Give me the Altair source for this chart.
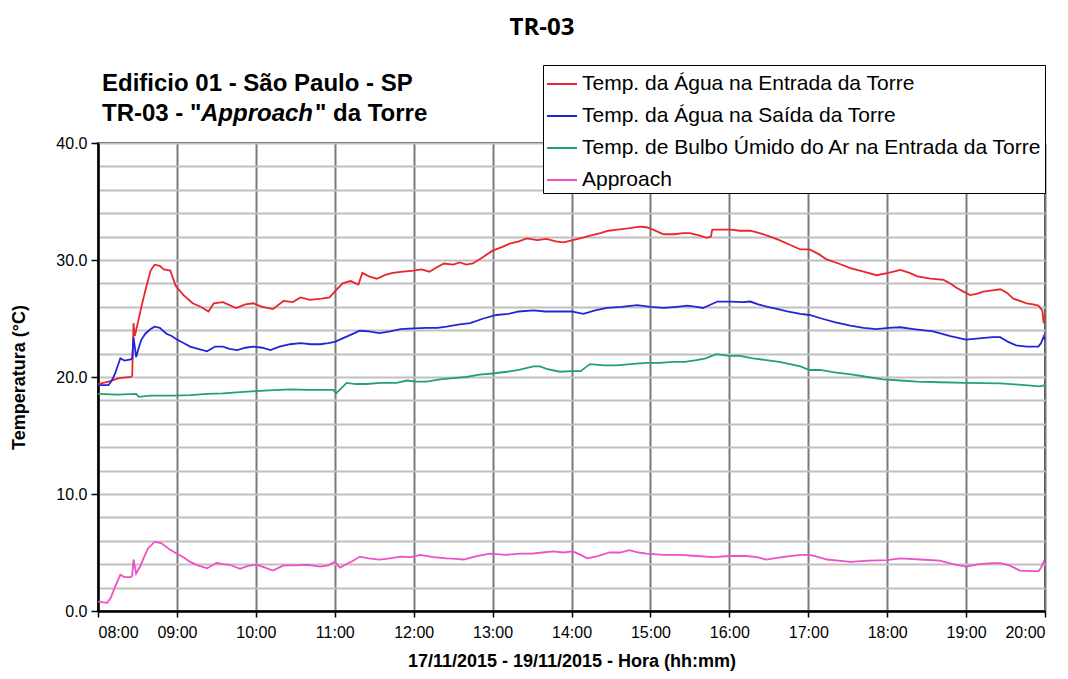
import altair as alt
import pandas as pd

# ---------------- data (minutes after 08:00, temperature in °C) ----------------
hour_labels = ["08:00", "09:00", "10:00", "11:00", "12:00", "13:00", "14:00",
               "15:00", "16:00", "17:00", "18:00", "19:00", "20:00"]

series_names = ["Temp. da Água na Entrada da Torre",
                "Temp. da Água na Saída da Torre",
                "Temp. de Bulbo Úmido do Ar na Entrada da Torre",
                "Approach"]
series_colors = ["#e8262c", "#2424d6", "#22a36a", "#ee50c6"]

t_entrada = [0, 8, 16, 25, 26, 27, 28, 30, 33, 36, 40, 43, 47, 50, 55, 59, 65, 72, 78, 84,
             88, 95, 105, 112, 118, 125, 133, 141, 148, 154, 161, 170, 176, 180, 186, 192,
             198, 201, 206, 212, 218, 224, 232, 240, 246, 252, 258, 263, 270, 275, 280, 285,
             292, 300, 307, 313, 320, 326, 334, 341, 348, 354, 361, 368, 375, 382, 388, 395,
             403, 412, 417, 422, 430, 438, 445, 450, 457, 463, 466, 467, 475, 481, 488, 496,
             503, 511, 518, 526, 534, 541, 548, 554, 563, 572, 582, 592, 601, 610, 617, 623,
             633, 643, 648, 653, 658, 663, 668, 673, 680, 686, 691, 696, 701, 706, 711, 715,
             718, 719, 720]
v_entrada = [19.4, 19.6, 19.9, 20.0, 20.1, 24.6, 23.5, 24.5, 26.0, 27.4, 29.1, 29.6, 29.5,
             29.2, 29.1, 27.8, 27.0, 26.3, 26.0, 25.6, 26.3, 26.4, 25.9, 26.2, 26.3, 26.0,
             25.8, 26.5, 26.4, 26.8, 26.6, 26.7, 26.8, 27.3, 28.0, 28.2, 27.9, 28.9, 28.6,
             28.4, 28.7, 28.9, 29.0, 29.1, 29.2, 29.0, 29.4, 29.7, 29.6, 29.8, 29.6, 29.7,
             30.2, 30.8, 31.1, 31.4, 31.6, 31.85, 31.7, 31.8, 31.6, 31.5, 31.7, 31.9, 32.1,
             32.3, 32.5, 32.6, 32.7, 32.85, 32.8, 32.6, 32.2, 32.2, 32.3, 32.3, 32.1, 31.9,
             32.0, 32.6, 32.6, 32.6, 32.5, 32.5, 32.3, 32.0, 31.7, 31.3, 30.9, 30.9, 30.5,
             30.05, 29.7, 29.3, 29.0, 28.7, 28.9, 29.15, 28.9, 28.6, 28.4, 28.3, 28.0, 27.6,
             27.3, 27.0, 27.1, 27.3, 27.4, 27.5, 27.2, 26.7, 26.5, 26.3, 26.2, 26.1, 25.7,
             24.6, 25.3]

t_saida = [0, 8, 11, 13, 17, 20, 25, 26, 27, 29, 31, 33, 36, 40, 43, 47, 52, 56, 60, 65,
           70, 76, 83, 89, 95, 100, 106, 112, 118, 125, 131, 138, 146, 154, 162, 169, 175,
           180, 186, 192, 199, 206, 214, 222, 230, 240, 250, 258, 265, 275, 283, 293, 303,
           312, 320, 331, 340, 350, 360, 369, 378, 387, 398, 410, 420, 430, 440, 448, 455,
           460, 466, 471, 481, 490, 496, 502, 509, 517, 524, 534, 541, 550, 560, 572, 582,
           592, 601, 610, 620, 635, 648, 660, 670, 680, 686, 692, 698, 706, 715, 717, 719,
           720]
v_saida = [19.3, 19.3, 19.8, 20.3, 21.6, 21.4, 21.5, 21.6, 23.4, 21.7, 22.5, 23.2, 23.7,
           24.1, 24.3, 24.2, 23.7, 23.5, 23.2, 22.9, 22.6, 22.4, 22.2, 22.6, 22.6, 22.4,
           22.3, 22.5, 22.6, 22.5, 22.3, 22.6, 22.8, 22.9, 22.8, 22.8, 22.9, 23.0, 23.3,
           23.6, 23.95, 23.9, 23.75, 23.9, 24.1, 24.15, 24.2, 24.2, 24.3, 24.5, 24.6, 25.0,
           25.3, 25.4, 25.6, 25.7, 25.6, 25.6, 25.6, 25.4, 25.7, 25.9, 26.0, 26.15, 26.0,
           25.9, 26.0, 26.1, 26.0, 25.9, 26.2, 26.45, 26.45, 26.4, 26.45, 26.2, 26.0, 25.8,
           25.6, 25.4, 25.3, 25.0, 24.7, 24.4, 24.2, 24.1, 24.2, 24.25, 24.1, 23.9, 23.5,
           23.2, 23.3, 23.4, 23.4, 23.0, 22.7, 22.6, 22.6, 22.9, 23.45, 23.2]

t_bulbo = [0, 15, 29, 31, 40, 57, 70, 83, 95, 108, 120, 130, 146, 160, 170, 179, 181, 189,
           196, 204, 215, 227, 235, 242, 250, 260, 270, 280, 290, 300, 311, 320, 331, 336,
           341, 351, 360, 367, 374, 385, 394, 405, 417, 427, 437, 446, 455, 462, 470, 480,
           488, 498, 508, 518, 526, 534, 541, 549, 560, 574, 585, 597, 610, 623, 640, 660,
           686, 700, 716, 720]
v_bulbo = [18.55, 18.5, 18.55, 18.3, 18.4, 18.4, 18.45, 18.55, 18.6, 18.7, 18.8, 18.85,
           18.95, 18.9, 18.9, 18.9, 18.6, 19.5, 19.4, 19.4, 19.5, 19.5, 19.7, 19.6, 19.6,
           19.8, 19.9, 20.0, 20.2, 20.3, 20.45, 20.6, 20.9, 20.9, 20.7, 20.45, 20.5, 20.5,
           21.1, 21.0, 21.0, 21.1, 21.2, 21.2, 21.3, 21.3, 21.45, 21.6, 21.95, 21.8, 21.8,
           21.6, 21.45, 21.3, 21.1, 20.9, 20.6, 20.6, 20.4, 20.2, 20.0, 19.8, 19.7, 19.6,
           19.55, 19.5, 19.45, 19.35, 19.2, 19.3]

t_approach = [0, 7, 10, 12, 15, 17, 20, 25, 26, 27, 29, 32, 35, 38, 43, 48, 54, 60, 65, 70,
              76, 83, 90, 95, 100, 108, 114, 121, 127, 133, 141, 150, 159, 169, 175, 180,
              184, 188, 194, 199, 206, 214, 222, 230, 238, 245, 255, 265, 272, 278, 288,
              298, 310, 321, 330, 338, 346, 354, 361, 367, 372, 380, 389, 397, 404, 411,
              417, 430, 443, 455, 468, 480, 493, 501, 508, 520, 534, 541, 548, 554, 563,
              572, 586, 600, 610, 625, 640, 650, 660, 670, 680, 686, 693, 701, 710, 715,
              717, 719, 720]
v_approach = [0.8, 0.7, 1.2, 1.8, 2.6, 3.1, 2.9, 2.9, 3.0, 4.4, 3.2, 3.8, 4.6, 5.35, 5.9,
              5.8, 5.3, 4.9, 4.6, 4.2, 3.9, 3.65, 4.1, 4.0, 3.95, 3.6, 3.85, 3.95, 3.7,
              3.45, 3.9, 3.9, 3.95, 3.8, 3.9, 4.2, 3.7, 3.95, 4.3, 4.65, 4.5, 4.4, 4.5,
              4.65, 4.6, 4.8, 4.6, 4.5, 4.45, 4.4, 4.7, 4.9, 4.8, 4.9, 4.9, 5.0, 5.1, 5.0,
              5.1, 4.8, 4.5, 4.7, 5.0, 5.0, 5.2, 5.0, 4.9, 4.8, 4.8, 4.7, 4.6, 4.7, 4.7,
              4.6, 4.4, 4.6, 4.8, 4.8, 4.6, 4.4, 4.3, 4.2, 4.3, 4.35, 4.5, 4.4, 4.3, 4.0,
              3.8, 4.0, 4.1, 4.1, 3.9, 3.45, 3.4, 3.4, 3.7, 4.2, 4.0]

y_label_values = [0, 10, 20, 30, 40]
y_grid_values = list(range(0, 41, 2))

# ---------------- build table ----------------
frames = []
for name, ts, vs in [(series_names[0], t_entrada, v_entrada),
                     (series_names[1], t_saida, v_saida),
                     (series_names[2], t_bulbo, v_bulbo),
                     (series_names[3], t_approach, v_approach)]:
    frames.append(pd.DataFrame({"serie": name, "minuto": ts, "temp": vs}))
df = pd.concat(frames, ignore_index=True)

FONT = "Liberation Sans"
label_expr = "[" + ",".join("'%s'" % h for h in hour_labels) + "][round(datum.value/60)]"

x_enc = alt.X(
    "minuto:Q",
    scale=alt.Scale(domain=[0, 720], nice=False, zero=False),
    axis=alt.Axis(
        values=list(range(0, 721, 60)), labelExpr=label_expr,
        title="17/11/2015 - 19/11/2015 - Hora  (hh:mm)",
        grid=True, gridColor="#7a7a7a", gridWidth=2,
        domainColor="#000000", domainWidth=2.5,
        tickColor="#000000", tickSize=6, tickWidth=1.5,
        labelFont=FONT, labelFontSize=16, labelColor="#000000", labelPadding=7,
        titleFont=FONT, titleFontSize=18, titleFontWeight="bold", titleColor="#000000",
        titleY=41,
    ),
)

y_scale = alt.Scale(domain=[0, 40], nice=False, zero=True)

grid_layer = alt.Chart(df).mark_point(opacity=0).encode(
    x=x_enc,
    y=alt.Y("temp:Q", scale=y_scale,
            axis=alt.Axis(values=y_grid_values, grid=True, gridColor="#c0c0c0",
                          gridWidth=2, labels=False, ticks=False, domain=False,
                          title=None, orient="left")),
)

lines = alt.Chart(df).mark_line(strokeWidth=1.8).encode(
    x=x_enc,
    y=alt.Y("temp:Q", scale=y_scale,
            axis=alt.Axis(values=y_label_values, format=".1f", grid=False, orient="left",
                          title="Temperatura (°C)",
                          domainColor="#000000", domainWidth=2.5,
                          tickColor="#000000", tickSize=7, tickWidth=1.5,
                          labelFont=FONT, labelFontSize=16, labelColor="#000000",
                          labelPadding=4,
                          titleFont=FONT, titleFontSize=18, titleFontWeight="bold",
                          titleColor="#000000", titleX=-70, titleY=234)),
    color=alt.Color(
        "serie:N",
        scale=alt.Scale(domain=series_names, range=series_colors),
        legend=alt.Legend(
            orient="none", legendX=445, legendY=-78, title=None,
            symbolType="stroke", symbolSize=900, symbolStrokeWidth=2,
            labelFont=FONT, labelFontSize=21, labelColor="#000000", labelLimit=700,
            labelOffset=4, rowPadding=6, padding=3,
            strokeColor="#000000", fillColor="#ffffff", cornerRadius=0,
        ),
    ),
    detail="serie:N",
)

# ---------------- title texts ----------------
main_title = alt.Chart(pd.DataFrame({"t": ["TR-03"]})).mark_text(
    font="Open Sans", fontSize=24, fontWeight="bold", align="center",
    baseline="alphabetic", color="#000000",
).encode(text="t:N", x=alt.value(444), y=alt.value(-108))

sub1 = alt.Chart(pd.DataFrame({"t": ["Edificio 01 - São Paulo - SP"]})).mark_text(
    font=FONT, fontSize=24, fontWeight="bold", align="left",
    baseline="alphabetic", color="#000000",
).encode(text="t:N", x=alt.value(4), y=alt.value(-52))

sub2a = alt.Chart(pd.DataFrame({"t": ['TR-03 - "']})).mark_text(
    font=FONT, fontSize=24, fontWeight="bold", align="left",
    baseline="alphabetic", color="#000000",
).encode(text="t:N", x=alt.value(4), y=alt.value(-22))

sub2b = alt.Chart(pd.DataFrame({"t": ["Approach"]})).mark_text(
    font=FONT, fontSize=24, fontWeight="bold", fontStyle="italic", align="left",
    baseline="alphabetic", color="#000000",
).encode(text="t:N", x=alt.value(103), y=alt.value(-22))

sub2c = alt.Chart(pd.DataFrame({"t": ['" da Torre']})).mark_text(
    font=FONT, fontSize=24, fontWeight="bold", align="left",
    baseline="alphabetic", color="#000000",
).encode(text="t:N", x=alt.value(217), y=alt.value(-22))

chart = alt.layer(grid_layer, lines, main_title, sub1, sub2a, sub2b, sub2c).resolve_axis(
    y="independent"
).properties(
    width=947, height=468,
    autosize=alt.AutoSizeParams(type="none"),
    padding={"left": 90, "top": 135, "right": 15, "bottom": 60},
    background="#ffffff",
).configure_view(
    stroke="#404040", strokeWidth=2
)

chart.save("out.html", embed_options={"renderer": "svg", "actions": False})
